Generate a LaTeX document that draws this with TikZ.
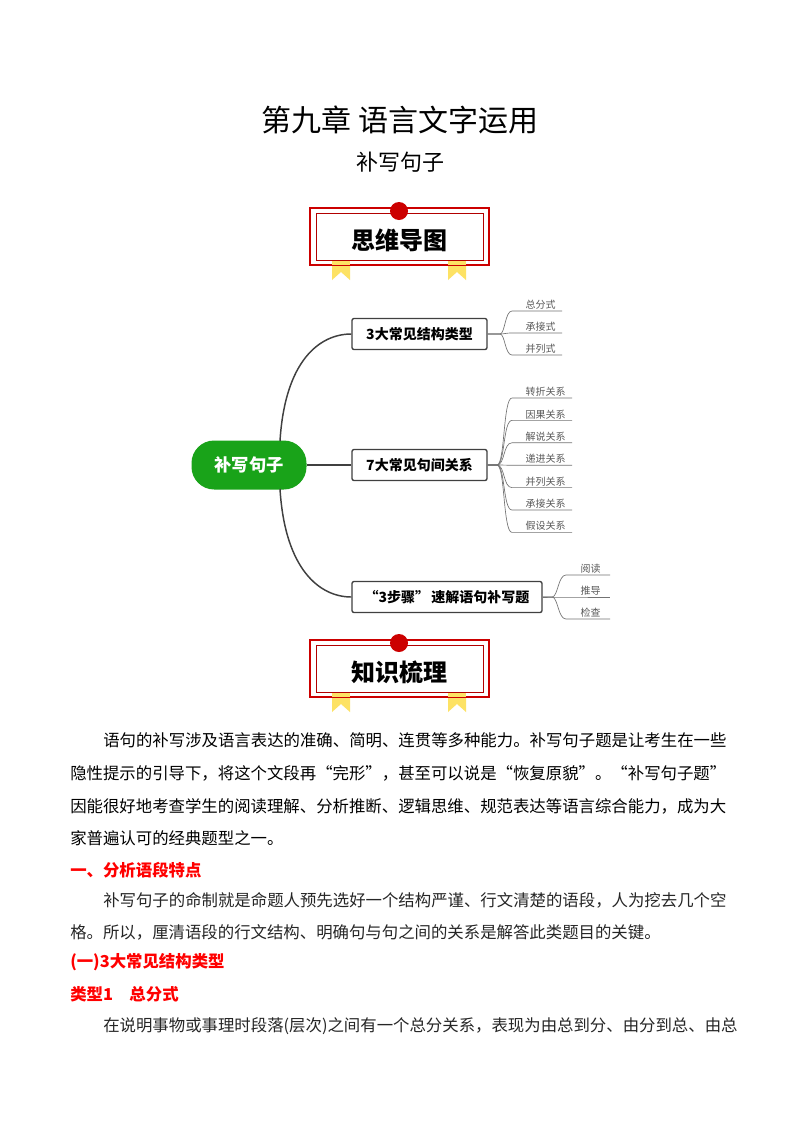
\documentclass[tikz,border=0pt]{standalone}
\usepackage{fontspec}
\setmainfont{Noto Sans CJK SC}
\begin{document}
\begin{tikzpicture}[x=0.75pt,y=-0.75pt,
  bx/.style={draw=black!75,line width=1pt,rounded corners=1.5pt,fill=white,inner sep=0pt,font=\bfseries\fontsize{10.5}{12}\selectfont},
  leaf/.style={anchor=south west,inner sep=1pt,text=black!65,font=\fontsize{7.5}{9}\selectfont},
  br/.style={draw=black!75,line width=1.1pt},
  sub/.style={draw=black!55,line width=0.5pt},
  body/.style={anchor=west,inner sep=0pt,font=\fontsize{12.3}{14}\selectfont},
  red/.style={anchor=west,inner sep=0pt,text=red,font=\bfseries\fontsize{12.3}{14}\selectfont}]
\useasboundingbox (0,0) rectangle (800,1132);
\fill[white] (0,0) rectangle (800,1132);
\node (title) at (400,120) {\fontsize{22.5}{26}\selectfont 第九章\ 语言文字运用};
\node (sub) at (400,162) {\fontsize{16.5}{19}\selectfont 补写句子};
% banners
\foreach \y/\t/\n in {208/思维导图/b1,640/知识梳理/b2}{
  \foreach \rx in {341,457}{
    \fill[yellow!70!orange!60] (\rx-9,\y+52) -- (\rx+9,\y+52) -- (\rx+9,\y+72) -- (\rx,\y+64) -- (\rx-9,\y+72) -- cycle;}
  \draw[red!80!black,line width=0.9pt,fill=white] (310,\y) rectangle (489,\y+57);
  \draw[red!70!black,line width=0.5pt] (316,\y+5) rectangle (483,\y+52);
  \foreach \rx in {341,457}{
    \fill[yellow!70!orange!60] (\rx-9,\y+53) rectangle (\rx+9,\y+57);}
  \fill[red!80!black] (399,\y+3) circle (9);
  \node[font=\bfseries\fontsize{18}{20}\selectfont] (\n) at (399,\y+32) {\t};
}
% mind map
\node[fill=green!60!black!90,text=white,rounded corners=17pt,minimum width=115*0.75pt,minimum height=49*0.75pt,font=\bfseries\fontsize{13}{15}\selectfont] (root) at (249,465) {补写句子};
\node[bx,minimum width=135*0.75pt,minimum height=31*0.75pt] (k1) at (419.5,334) {3大常见结构类型};
\node[bx,minimum width=135*0.75pt,minimum height=31*0.75pt] (k2) at (419.5,465) {7大常见句间关系};
\node[bx,minimum width=190*0.75pt,minimum height=31*0.75pt] (k3) at (447,597) {“3步骤”\,速解语句补写题};
\coordinate (rt) at (280,441); \coordinate (rb) at (280,489);
\draw[br] (rt) .. controls (285,360) and (320,334) .. (k1.west);
\draw[br] (root.east) -- (k2.west);
\draw[br] (rb) .. controls (285,570) and (320,597) .. (k3.west);
% leaves
\foreach \t [count=\i] in {总分式,承接式,并列式}{
  \pgfmathsetmacro\yy{311+22*(\i-1)}
  \node[leaf] (a\i) at (524,\yy) {\t};
  \draw[sub] (k1.east) -- (500,334) .. controls (505,334) and (505,\yy) .. (512,\yy) -- (562,\yy);}
\foreach \t [count=\i] in {转折关系,因果关系,解说关系,递进关系,并列关系,承接关系,假设关系}{
  \pgfmathsetmacro\yy{398+22.4*(\i-1)}
  \node[leaf] (b\i) at (524,\yy) {\t};
  \draw[sub] (k2.east) -- (497,465) .. controls (505,465) and (503,\yy) .. (512,\yy) -- (572,\yy);}
\foreach \t [count=\i] in {阅读,推导,检查}{
  \pgfmathsetmacro\yy{575+22*(\i-1)}
  \node[leaf] (c\i) at (579,\yy) {\t};
  \draw[sub] (k3.east) -- (552,597) .. controls (558,597) and (558,\yy) .. (566,\yy) -- (610,\yy);}
% body text
\node[body] (p1) at (103,740) {语句的补写涉及语言表达的准确、简明、连贯等多种能力。补写句子题是让考生在一些};
\node[body] (p2) at (70,773) {隐性提示的引导下，将这个文段再“完形”，甚至可以说是“恢复原貌”。“补写句子题”};
\node[body] (p3) at (70,806) {因能很好地考查学生的阅读理解、分析推断、逻辑思维、规范表达等语言综合能力，成为大};
\node[body] (p4) at (70,838) {家普遍认可的经典题型之一。};
\node[red] (h1) at (70,870) {一、分析语段特点};
\node[body,text=black!85] (p5) at (103,900) {补写句子的命制就是命题人预先选好一个结构严谨、行文清楚的语段，人为挖去几个空};
\node[body,text=black!85] (p6) at (70,932) {格。所以，厘清语段的行文结构、明确句与句之间的关系是解答此类题目的关键。};
\node[red] (h2) at (70,962) {(一)3大常见结构类型};
\node[red] (h3) at (70,994) {类型1\quad 总分式};
\node[body,text=black!85] (p7) at (103,1026) {在说明事物或事理时段落(层次)之间有一个总分关系，表现为由总到分、由分到总、由总};
\end{tikzpicture}
\end{document}
